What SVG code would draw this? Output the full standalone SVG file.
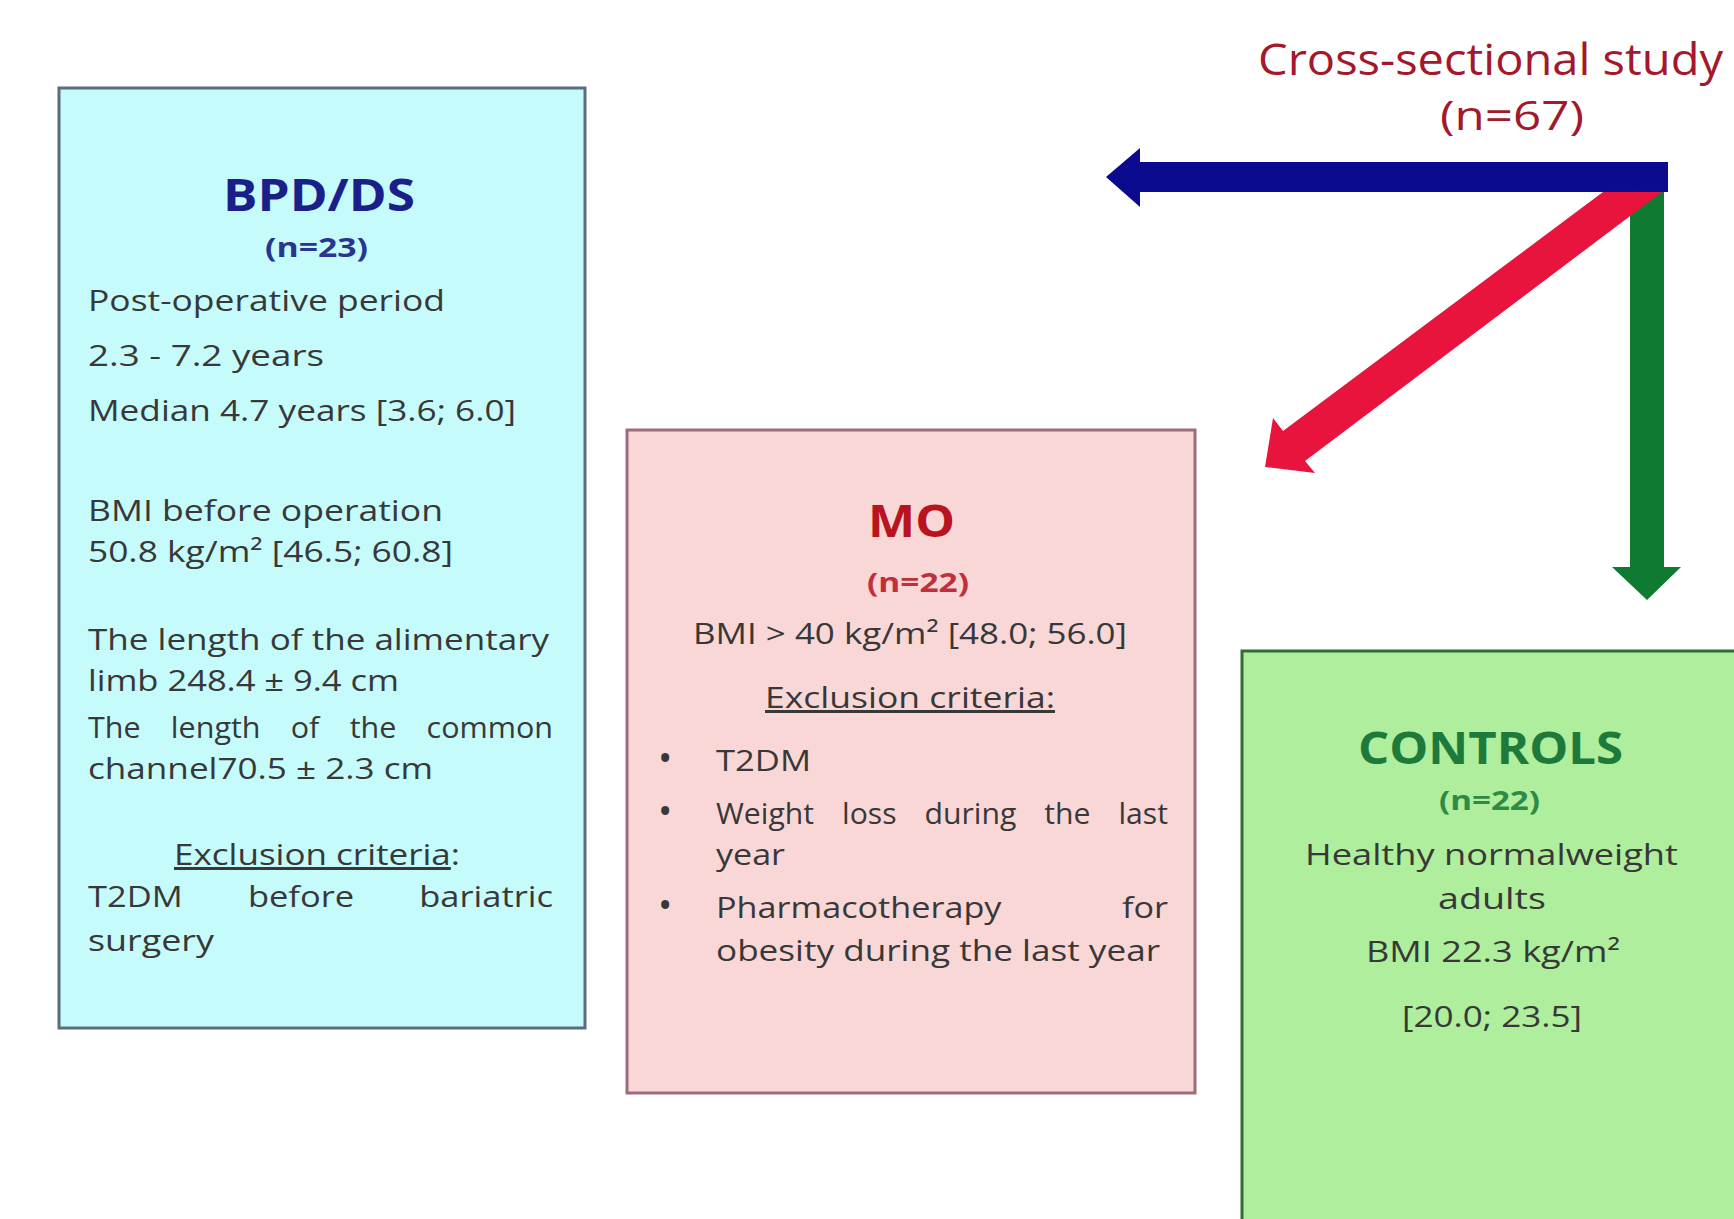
<svg xmlns="http://www.w3.org/2000/svg" width="1734" height="1219" viewBox="0 0 1734 1219">
<style>
text{font-family:"Open Sans","Liberation Sans",sans-serif;}
.body{font-size:30px;fill:#383838;}
.title{font-size:44px;font-weight:bold;}
.n{font-size:27px;font-weight:bold;}
.ul{text-decoration:underline;}
.bul{font-size:38px;fill:#383838;}
</style>
<rect x="0" y="0" width="1734" height="1219" fill="#ffffff"/>

<g id="study">
<text x="1258" y="75" font-size="44" fill="#A3182B" textLength="465" lengthAdjust="spacingAndGlyphs">Cross-sectional study</text>
<text x="1440" y="130" font-size="40" fill="#A3182B" textLength="144" lengthAdjust="spacingAndGlyphs">(n=67)</text>
</g>

<g id="connectors">
<polygon fill="#0E7A32" points="1630,192 1664,192 1664,567 1681,567 1647,600 1612,567 1630,567"/>
<polygon fill="#E8143E" points="1603,192 1662,192 1305,461 1315,473 1265,467 1273,418 1283,431"/>
<polygon fill="#0A0A8E" points="1106,177 1140,148 1140,162 1668,162 1668,192 1140,192 1140,207"/>
</g>

<g id="bpdds">
<rect x="59" y="88" width="526" height="940" fill="#C6FBFB" stroke="#5B6B82" stroke-width="3"/>
<text class="title" x="223" y="211" fill="#1B1F8A" textLength="192" lengthAdjust="spacingAndGlyphs">BPD/DS</text>
<text class="n" x="265" y="257" fill="#2A3590" textLength="103" lengthAdjust="spacingAndGlyphs">(n=23)</text>
<text class="body" x="88" y="311" textLength="357" lengthAdjust="spacingAndGlyphs">Post-operative period</text>
<text class="body" x="88" y="366" textLength="236" lengthAdjust="spacingAndGlyphs">2.3 - 7.2 years</text>
<text class="body" x="88" y="421" textLength="428" lengthAdjust="spacingAndGlyphs">Median 4.7 years [3.6; 6.0]</text>
<text class="body" x="88" y="521" textLength="355" lengthAdjust="spacingAndGlyphs">BMI before operation</text>
<text class="body" x="88" y="562" textLength="365" lengthAdjust="spacingAndGlyphs">50.8 kg/m² [46.5; 60.8]</text>
<text class="body" x="88" y="650" textLength="461" lengthAdjust="spacingAndGlyphs">The length of the alimentary</text>
<text class="body" x="88" y="691" textLength="311" lengthAdjust="spacingAndGlyphs">limb 248.4 ± 9.4 cm</text>
<text class="body" x="88" y="738" word-spacing="22" textLength="465" lengthAdjust="spacingAndGlyphs">The length of the common</text>
<text class="body" x="88" y="779" textLength="345" lengthAdjust="spacingAndGlyphs">channel70.5 ± 2.3 cm</text>
<text class="body" x="174" y="865" textLength="286" lengthAdjust="spacingAndGlyphs"><tspan class="ul">Exclusion criteria</tspan>:</text>
<text class="body" x="88" y="907" word-spacing="49" textLength="465" lengthAdjust="spacingAndGlyphs">T2DM before bariatric</text>
<text class="body" x="88" y="951" textLength="126" lengthAdjust="spacingAndGlyphs">surgery</text>
</g>

<g id="mo">
<rect x="627" y="430" width="568" height="663" fill="#FAD7D7" stroke="#9C6B7C" stroke-width="3"/>
<text class="title" x="868" y="537" fill="#B8141F" textLength="87" lengthAdjust="spacingAndGlyphs">MO</text>
<text class="n" x="867" y="592" fill="#C0303C" textLength="102" lengthAdjust="spacingAndGlyphs">(n=22)</text>
<text class="body" x="693" y="644" textLength="434" lengthAdjust="spacingAndGlyphs">BMI &gt; 40 kg/m² [48.0; 56.0]</text>
<text class="body ul" x="765" y="708" textLength="290" lengthAdjust="spacingAndGlyphs">Exclusion criteria:</text>
<text class="bul" x="658" y="772">•</text>
<text class="body" x="716" y="771" textLength="95" lengthAdjust="spacingAndGlyphs">T2DM</text>
<text class="bul" x="658" y="825">•</text>
<text class="body" x="716" y="824" word-spacing="20" textLength="452" lengthAdjust="spacingAndGlyphs">Weight loss during the last</text>
<text class="body" x="716" y="865" textLength="69" lengthAdjust="spacingAndGlyphs">year</text>
<text class="bul" x="658" y="919">•</text>
<text class="body" x="716" y="918" word-spacing="98" textLength="452" lengthAdjust="spacingAndGlyphs">Pharmacotherapy for</text>
<text class="body" x="716" y="961" textLength="444" lengthAdjust="spacingAndGlyphs">obesity during the last year</text>
</g>

<g id="controls">
<rect x="1242" y="651" width="520" height="620" fill="#AEEE9C" stroke="#2F6B35" stroke-width="3"/>
<text class="title" x="1358" y="764" fill="#1E7A3A" textLength="265" lengthAdjust="spacingAndGlyphs">CONTROLS</text>
<text class="n" x="1439" y="810" fill="#2E8B45" textLength="101" lengthAdjust="spacingAndGlyphs">(n=22)</text>
<text class="body" x="1305" y="865" textLength="373" lengthAdjust="spacingAndGlyphs">Healthy normalweight</text>
<text class="body" x="1438" y="909" textLength="108" lengthAdjust="spacingAndGlyphs">adults</text>
<text class="body" x="1366" y="962" textLength="254" lengthAdjust="spacingAndGlyphs">BMI 22.3 kg/m²</text>
<text class="body" x="1402" y="1027" textLength="180" lengthAdjust="spacingAndGlyphs">[20.0; 23.5]</text>
</g>
</svg>
